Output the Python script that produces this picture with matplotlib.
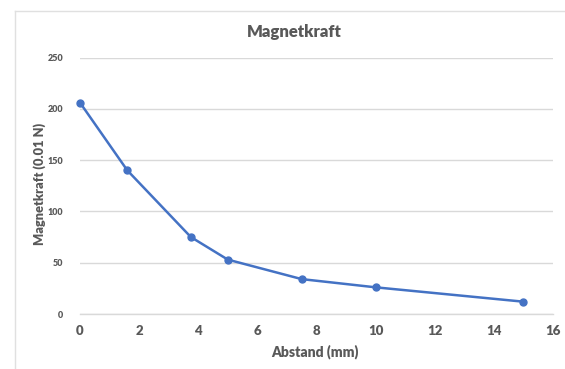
import matplotlib
matplotlib.use("Agg")
import matplotlib.pyplot as plt
from matplotlib.lines import Line2D

# Measured magnet force versus distance
abstand_mm = [0, 1.6, 3.75, 5, 7.5, 10, 15]
kraft_001N = [206, 140, 75, 53, 34, 26, 12]

x_ticks = [0, 2, 4, 6, 8, 10, 12, 14, 16]
y_ticks = [0, 50, 100, 150, 200, 250]

plt.rcParams['font.family'] = ['Lato', 'DejaVu Sans']
text_color = '#595959'
line_color = '#4472C4'
grid_color = '#D9D9D9'

fig = plt.figure(figsize=(5.65, 3.69), dpi=100)
ax = fig.add_axes([80 / 565, 1 - 314 / 369, (553 - 80) / 565, (314 - 57.5) / 369])

ax.plot(abstand_mm, kraft_001N, color=line_color, lw=1.8, marker='o',
        markersize=5, markerfacecolor=line_color, markeredgecolor=line_color,
        clip_on=False, zorder=3)

ax.set_xlim(0, 16)
ax.set_ylim(0, 250)
ax.set_xticks(x_ticks)
ax.set_yticks(y_ticks)
ax.yaxis.grid(True, color=grid_color, lw=1.0)
ax.set_axisbelow(True)
for side in ['top', 'right', 'left']:
    ax.spines[side].set_visible(False)
ax.spines['bottom'].set_color(grid_color)
ax.spines['bottom'].set_linewidth(1.0)
ax.tick_params(axis='both', length=0)
ax.tick_params(axis='x', labelsize=9.5, labelcolor=text_color, pad=8)
ax.tick_params(axis='y', labelsize=6.5, labelcolor=text_color, pad=12)
for lbl in ax.get_xticklabels() + ax.get_yticklabels():
    lbl.set_fontweight('heavy')

fig.text(294 / 565, 1 - 32 / 369, 'Magnetkraft', ha='center', va='center',
         fontsize=12, fontweight='heavy', color=text_color)
fig.text(315 / 565, 1 - 352 / 369, 'Abstand (mm)', ha='center', va='center',
         fontsize=10, fontweight='heavy', color=text_color)
fig.text(40 / 565, 1 - 184 / 369, 'Magnetkraft (0.01 N)', ha='center', va='center',
         rotation=90, fontsize=9.3, fontweight='heavy', color=text_color)

# Chart area frame (left and top edges)
frame_color = '#E0E0E0'
fig.add_artist(Line2D([15 / 565, 15 / 565], [0, 1 - 11 / 369], transform=fig.transFigure,
                      color=frame_color, lw=1.0))
fig.add_artist(Line2D([15 / 565, 1], [1 - 11 / 369, 1 - 11 / 369], transform=fig.transFigure,
                      color=frame_color, lw=1.0))

fig.savefig('out.png', dpi=100, facecolor='white')
